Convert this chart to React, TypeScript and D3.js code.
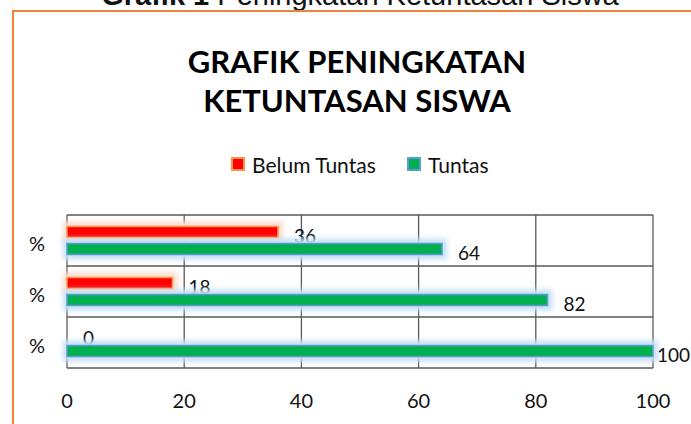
import React, { useEffect, useRef } from 'react';
import * as d3 from 'd3';

// category labels, listed bottom to top as in the source sheet
const categories = ['%', '%', '%'];
const belumTuntas = [0, 18, 36];
const tuntas = [100, 82, 64];
const xTicks = [0, 20, 40, 60, 80, 100];
const seriesNames = ['Belum Tuntas', 'Tuntas'];

const width = 691;
const height = 424;
const font = 'Lato, "Open Sans", sans-serif';

export default function App() {
    const ref = useRef<SVGSVGElement>(null);

    useEffect(() => {
        const svg = d3.select(ref.current);
        svg.selectAll('*').remove();

        const defs = svg.append('defs');
        defs.append('filter')
            .attr('id', 'glow')
            .attr('x', '-20%').attr('y', '-100%')
            .attr('width', '140%').attr('height', '300%')
            .append('feGaussianBlur')
            .attr('stdDeviation', 2.5);

        const plot = { left: 67, right: 653, top: 215, bottom: 368 };

        const x = d3.scaleLinear().domain([0, 100]).range([plot.left, plot.right]);
        const y = d3.scaleBand<number>()
            .domain(d3.range(categories.length))
            .range([plot.bottom, plot.top]);
        const inner = d3.scaleBand<string>()
            .domain(seriesNames)
            .range([0, y.bandwidth()])
            .paddingInner(6 / 17)
            .paddingOuter(23 / 34);

        // caption above the chart box (mostly cut off by the top edge)
        const cap = svg.append('text')
            .attr('x', 360).attr('y', 5)
            .attr('text-anchor', 'middle')
            .style('font-family', 'Arial, "Liberation Sans", sans-serif')
            .style('font-size', '29px')
            .attr('fill', '#111');
        cap.append('tspan').style('font-weight', 'bold').text('Grafik 1 ');
        cap.append('tspan').text('Peningkatan Ketuntasan Siswa');

        // orange chart frame
        svg.append('path')
            .attr('d', `M13,${height} L13,11 L${width},11`)
            .attr('fill', 'none')
            .attr('stroke', '#F0853A')
            .attr('stroke-width', 2);

        // title
        const title = svg.append('text')
            .attr('text-anchor', 'middle')
            .style('font-family', font)
            .style('font-weight', 'bold')
            .style('font-size', '31px')
            .attr('fill', '#000');
        title.append('tspan').attr('x', 357).attr('y', 73).text('GRAFIK PENINGKATAN');
        title.append('tspan').attr('x', 357).attr('y', 112).text('KETUNTASAN SISWA');

        // legend
        const legendItems = [
            { name: seriesNames[0], fill: '#FF0000', stroke: '#F79646', x: 231 },
            { name: seriesNames[1], fill: '#00B050', stroke: '#5B9BD5', x: 407 },
        ];
        const lg = svg.append('g').selectAll('g').data(legendItems).enter().append('g')
            .attr('transform', (d) => `translate(${d.x},157)`);
        lg.append('rect')
            .attr('x', 1).attr('y', 1).attr('width', 12).attr('height', 12)
            .attr('fill', (d) => d.fill)
            .attr('stroke', (d) => d.stroke)
            .attr('stroke-width', 2);
        lg.append('text')
            .attr('x', 21).attr('y', 7)
            .attr('dominant-baseline', 'central')
            .style('font-family', font)
            .style('font-size', '21px')
            .attr('fill', '#111')
            .text((d) => d.name);

        // grid
        const grid = svg.append('g').attr('stroke', '#595959').attr('stroke-width', 1.3);
        grid.selectAll('line.v').data(xTicks).enter().append('line')
            .attr('x1', (d) => x(d)).attr('x2', (d) => x(d))
            .attr('y1', plot.top).attr('y2', plot.bottom);
        grid.selectAll('line.h').data([plot.top, plot.bottom, ...d3.range(1, categories.length).map((i) => y(i)! + y.bandwidth())])
            .enter().append('line')
            .attr('x1', plot.left).attr('x2', plot.right)
            .attr('y1', (d) => d).attr('y2', (d) => d);

        const series = [
            { name: seriesNames[0], values: belumTuntas, fill: '#FF0000', stroke: '#F79646', glow: '#FBDCCB' },
            { name: seriesNames[1], values: tuntas, fill: '#00B050', stroke: '#5B9BD5', glow: '#C8E0F7' },
        ];

        series.forEach((s) => {
            const g = svg.append('g');
            const rows = s.values.map((v, i) => ({ v, i }));
            const top = (d: { i: number }) => y(d.i)! + inner(s.name)!;
            const bh = inner.bandwidth();

            g.selectAll('rect.glow').data(rows.filter((d) => d.v > 0)).enter().append('rect')
                .attr('x', plot.left - 4)
                .attr('y', (d) => top(d) - 5)
                .attr('width', (d) => x(d.v) - plot.left + 9)
                .attr('height', bh + 10)
                .attr('fill', s.glow)
                .attr('filter', 'url(#glow)');

            g.selectAll('rect.bar').data(rows.filter((d) => d.v > 0)).enter().append('rect')
                .attr('x', plot.left)
                .attr('y', top)
                .attr('width', (d) => x(d.v) - plot.left)
                .attr('height', bh)
                .attr('fill', s.fill)
                .attr('stroke', s.stroke)
                .attr('stroke-width', 1.5);

            g.selectAll('text').data(rows).enter().append('text')
                .attr('x', (d) => Math.min(x(d.v) + 16, plot.right + 4))
                .attr('y', (d) => top(d) + bh / 2 + 3)
                .attr('dominant-baseline', 'central')
                .style('font-family', font)
                .style('font-size', '19px')
                .attr('fill', '#111')
                .text((d) => d.v);
        });

        // category labels
        svg.append('g').selectAll('text').data(categories).enter().append('text')
            .attr('x', 37)
            .attr('y', (_, i) => y(i)! + y.bandwidth() / 2 + 2)
            .attr('text-anchor', 'middle')
            .attr('dominant-baseline', 'central')
            .style('font-family', font)
            .style('font-size', '20px')
            .attr('fill', '#111')
            .text((d) => d);

        // x axis labels
        svg.append('g').selectAll('text').data(xTicks).enter().append('text')
            .attr('x', (d) => x(d))
            .attr('y', 400)
            .attr('text-anchor', 'middle')
            .attr('dominant-baseline', 'central')
            .style('font-family', font)
            .style('font-size', '20px')
            .attr('fill', '#111')
            .text((d) => d);
    }, []);

    return (
        <svg
            ref={ref}
            width={width}
            height={height}
            style={{ position: 'absolute', left: 0, top: 0, background: '#fff' }}
        />
    );
}
